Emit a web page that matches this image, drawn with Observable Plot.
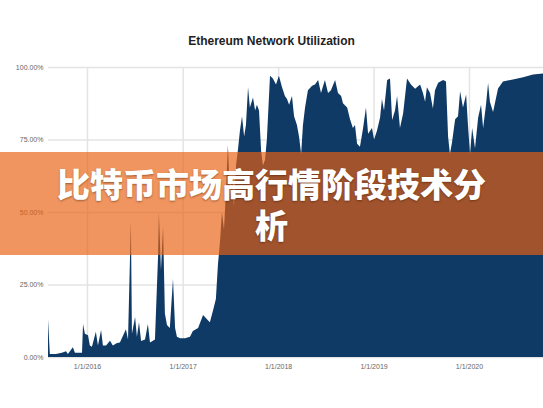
<!DOCTYPE html>
<html>
<head>
<meta charset="utf-8">
<script src="https://cdn.jsdelivr.net/npm/d3@7"></script>
<script src="https://cdn.jsdelivr.net/npm/@observablehq/plot@0.6"></script>
<style>
  html, body { margin: 0; padding: 0; background: #fff; }
  #wrap { position: relative; width: 543px; height: 408px; overflow: hidden; font-family: "Liberation Sans", Arial, sans-serif; }
  #chart { position: absolute; left: 0; top: 0; }
  #title { position: absolute; left: 0; width: 543px; top: 34px; text-align: center; font-size: 12px; font-weight: bold; color: #222; }
  #banner { position: absolute; left: 0; top: 152px; width: 543px; height: 103px; background: rgba(232, 96, 15, 0.667); }
  #headline { position: absolute; left: 0; top: 163px; width: 543px; box-sizing: border-box; padding: 0 50px; text-align: center;
    font-family: "Noto Sans CJK SC", sans-serif; font-weight: 900; font-size: 33px; line-height: 41px; color: #fff;
    text-shadow: 0 1px 2px rgba(60, 20, 0, 0.45); }
</style>
</head>
<body>
<div id="wrap">
  <div id="chart"></div>
  <div id="title"></div>
  <div id="banner"></div>
  <div id="headline"></div>
</div>
<script>
const chartTitle = "Ethereum Network Utilization";
const headline = "比特币市场高行情阶段技术分析";

const dates = [
  "2015-08-05","2015-08-12","2015-09-04","2015-09-27","2015-10-13","2015-10-20","2015-11-08","2015-11-16","2015-12-05","2015-12-13","2015-12-17","2015-12-24",
  "2016-01-05","2016-01-12","2016-01-20","2016-02-04","2016-02-12","2016-02-24","2016-03-02","2016-03-14","2016-03-29","2016-04-09","2016-04-25","2016-05-06",
  "2016-05-29","2016-06-06","2016-06-17","2016-06-21","2016-07-03","2016-07-10","2016-07-18","2016-07-26","2016-08-10","2016-08-21","2016-08-29","2016-09-17",
  "2016-09-29","2016-10-02","2016-10-10","2016-10-18","2016-10-25","2016-11-02","2016-11-13","2016-11-25","2016-12-03","2016-12-10","2016-12-22",
  "2017-01-10","2017-01-29","2017-02-09","2017-03-01","2017-03-20","2017-04-04","2017-04-15","2017-04-27","2017-05-08","2017-05-16","2017-05-24","2017-05-31",
  "2017-06-08","2017-06-16","2017-06-23","2017-07-01","2017-07-09","2017-07-16","2017-07-24","2017-08-01","2017-08-08","2017-08-16","2017-08-24","2017-08-31",
  "2017-09-08","2017-09-15","2017-09-27","2017-10-05","2017-10-12","2017-10-20","2017-10-28","2017-11-04","2017-11-12","2017-11-19","2017-12-01","2017-12-12","2017-12-24",
  "2018-01-04","2018-01-16","2018-01-27","2018-02-04","2018-02-12","2018-02-23","2018-03-03","2018-03-14","2018-03-22","2018-03-30","2018-04-06","2018-04-14",
  "2018-04-25","2018-05-11","2018-05-22","2018-06-03","2018-06-14","2018-06-29","2018-07-11","2018-07-22","2018-08-07","2018-08-18","2018-08-30","2018-09-06",
  "2018-09-22","2018-10-03","2018-10-14","2018-10-22","2018-10-30","2018-11-10","2018-11-22","2018-12-03","2018-12-11","2018-12-26",
  "2019-01-03","2019-01-14","2019-01-26","2019-02-02","2019-02-10","2019-02-22","2019-03-05","2019-03-13","2019-03-24","2019-04-01","2019-04-12","2019-04-24",
  "2019-05-09","2019-05-24","2019-06-09","2019-06-28","2019-07-09","2019-07-17","2019-07-24","2019-08-05","2019-08-16","2019-08-24","2019-09-05","2019-09-24",
  "2019-10-05","2019-10-13","2019-10-20","2019-10-28","2019-11-09","2019-11-20","2019-11-28","2019-12-09","2019-12-21","2019-12-28",
  "2020-01-05","2020-01-13","2020-01-24","2020-02-05","2020-02-16","2020-02-24","2020-03-06","2020-03-14","2020-03-21","2020-04-02","2020-04-21","2020-05-10",
  "2020-06-17","2020-07-26","2020-09-02","2020-10-10"
];
const utilization = [
  13, 1, 1, 1.5, 2, 1, 3.4, 1.5, 1.5, 1.5, 11.4, 8,
  7.5, 4, 3.5, 8.7, 4, 9.3, 4, 4, 5.6, 4, 4.8, 5,
  9.6, 6, 47, 8, 13.8, 7, 12, 5.5, 6, 11.4, 5, 6,
  35, 50, 30, 45, 15, 11, 10, 27, 10, 7, 6.5,
  6.5, 7, 9, 10, 14.5, 13, 12, 16, 20, 32, 40, 50,
  44, 58, 73, 55, 62, 52, 66, 72, 78, 83, 76, 80,
  93, 86, 89.5, 85, 87, 85, 71, 66, 68, 75, 97, 96, 94,
  97, 93, 90, 89, 87, 90, 83, 80, 76, 70, 80, 86,
  92, 93.5, 94, 95.5, 91, 95.5, 91, 92, 95.5, 91, 90, 87.5,
  86, 82, 79, 80, 73.5, 72.5, 79, 86, 77, 79,
  75, 78, 82.6, 89, 85, 95.5, 96, 81.7, 85, 90, 79, 84,
  96, 94, 92.5, 94, 91, 88, 93, 91, 85.7, 92, 94.6, 95.5,
  95, 76, 70, 74, 82, 83, 91.6, 86, 90.5, 80,
  70, 79, 72, 82.6, 87, 79, 87, 94.5, 88, 84.5, 92.6, 95,
  95.7, 96.5, 97.4, 97.8
];
const yTicks = [0, 25, 50, 75, 100];
const yTickLabels = ["0.00%", "25.00%", "50.00%", "75.00%", "100.00%"];
const xTicks = ["2016-01-01", "2017-01-01", "2018-01-01", "2019-01-01", "2020-01-01"];
const xTickLabels = ["1/1/2016", "1/1/2017", "1/1/2018", "1/1/2019", "1/1/2020"];
const xDomain = ["2015-08-05", "2020-10-10"];

const data = dates.map((d, i) => ({date: new Date(d + "T00:00:00Z"), value: utilization[i]}));
const xTickDates = xTicks.map(d => new Date(d + "T00:00:00Z"));

const plot = Plot.plot({
  width: 543,
  height: 408,
  marginLeft: 48,
  marginRight: 0,
  marginTop: 67,
  marginBottom: 51,
  style: {fontFamily: "'Liberation Sans', Arial, sans-serif", background: "transparent"},
  x: {type: "utc", domain: xDomain.map(d => new Date(d + "T00:00:00Z"))},
  y: {domain: [0, 100]},
  marks: [
    Plot.gridY(yTicks, {stroke: "#e4e4e4", strokeOpacity: 1, strokeWidth: 1.5}),
    Plot.gridX(xTickDates, {stroke: "#e4e4e4", strokeOpacity: 1, strokeWidth: 1.5}),
    Plot.areaY(data, {x: "date", y: "value", fill: "#0f3a66", curve: "linear"}),
    Plot.axisY(yTicks, {tickSize: 0, tickPadding: 5, fontSize: 7, color: "#666",
      tickFormat: (d) => yTickLabels[yTicks.indexOf(d)], label: null}),
    Plot.axisX(xTickDates, {tickSize: 0, tickPadding: 7, fontSize: 7, color: "#666",
      tickFormat: (d) => xTickLabels[xTickDates.findIndex(t => +t === +d)], label: null})
  ]
});
document.getElementById("chart").appendChild(plot);
document.getElementById("title").textContent = chartTitle;
document.getElementById("headline").textContent = headline;
</script>
</body>
</html>
